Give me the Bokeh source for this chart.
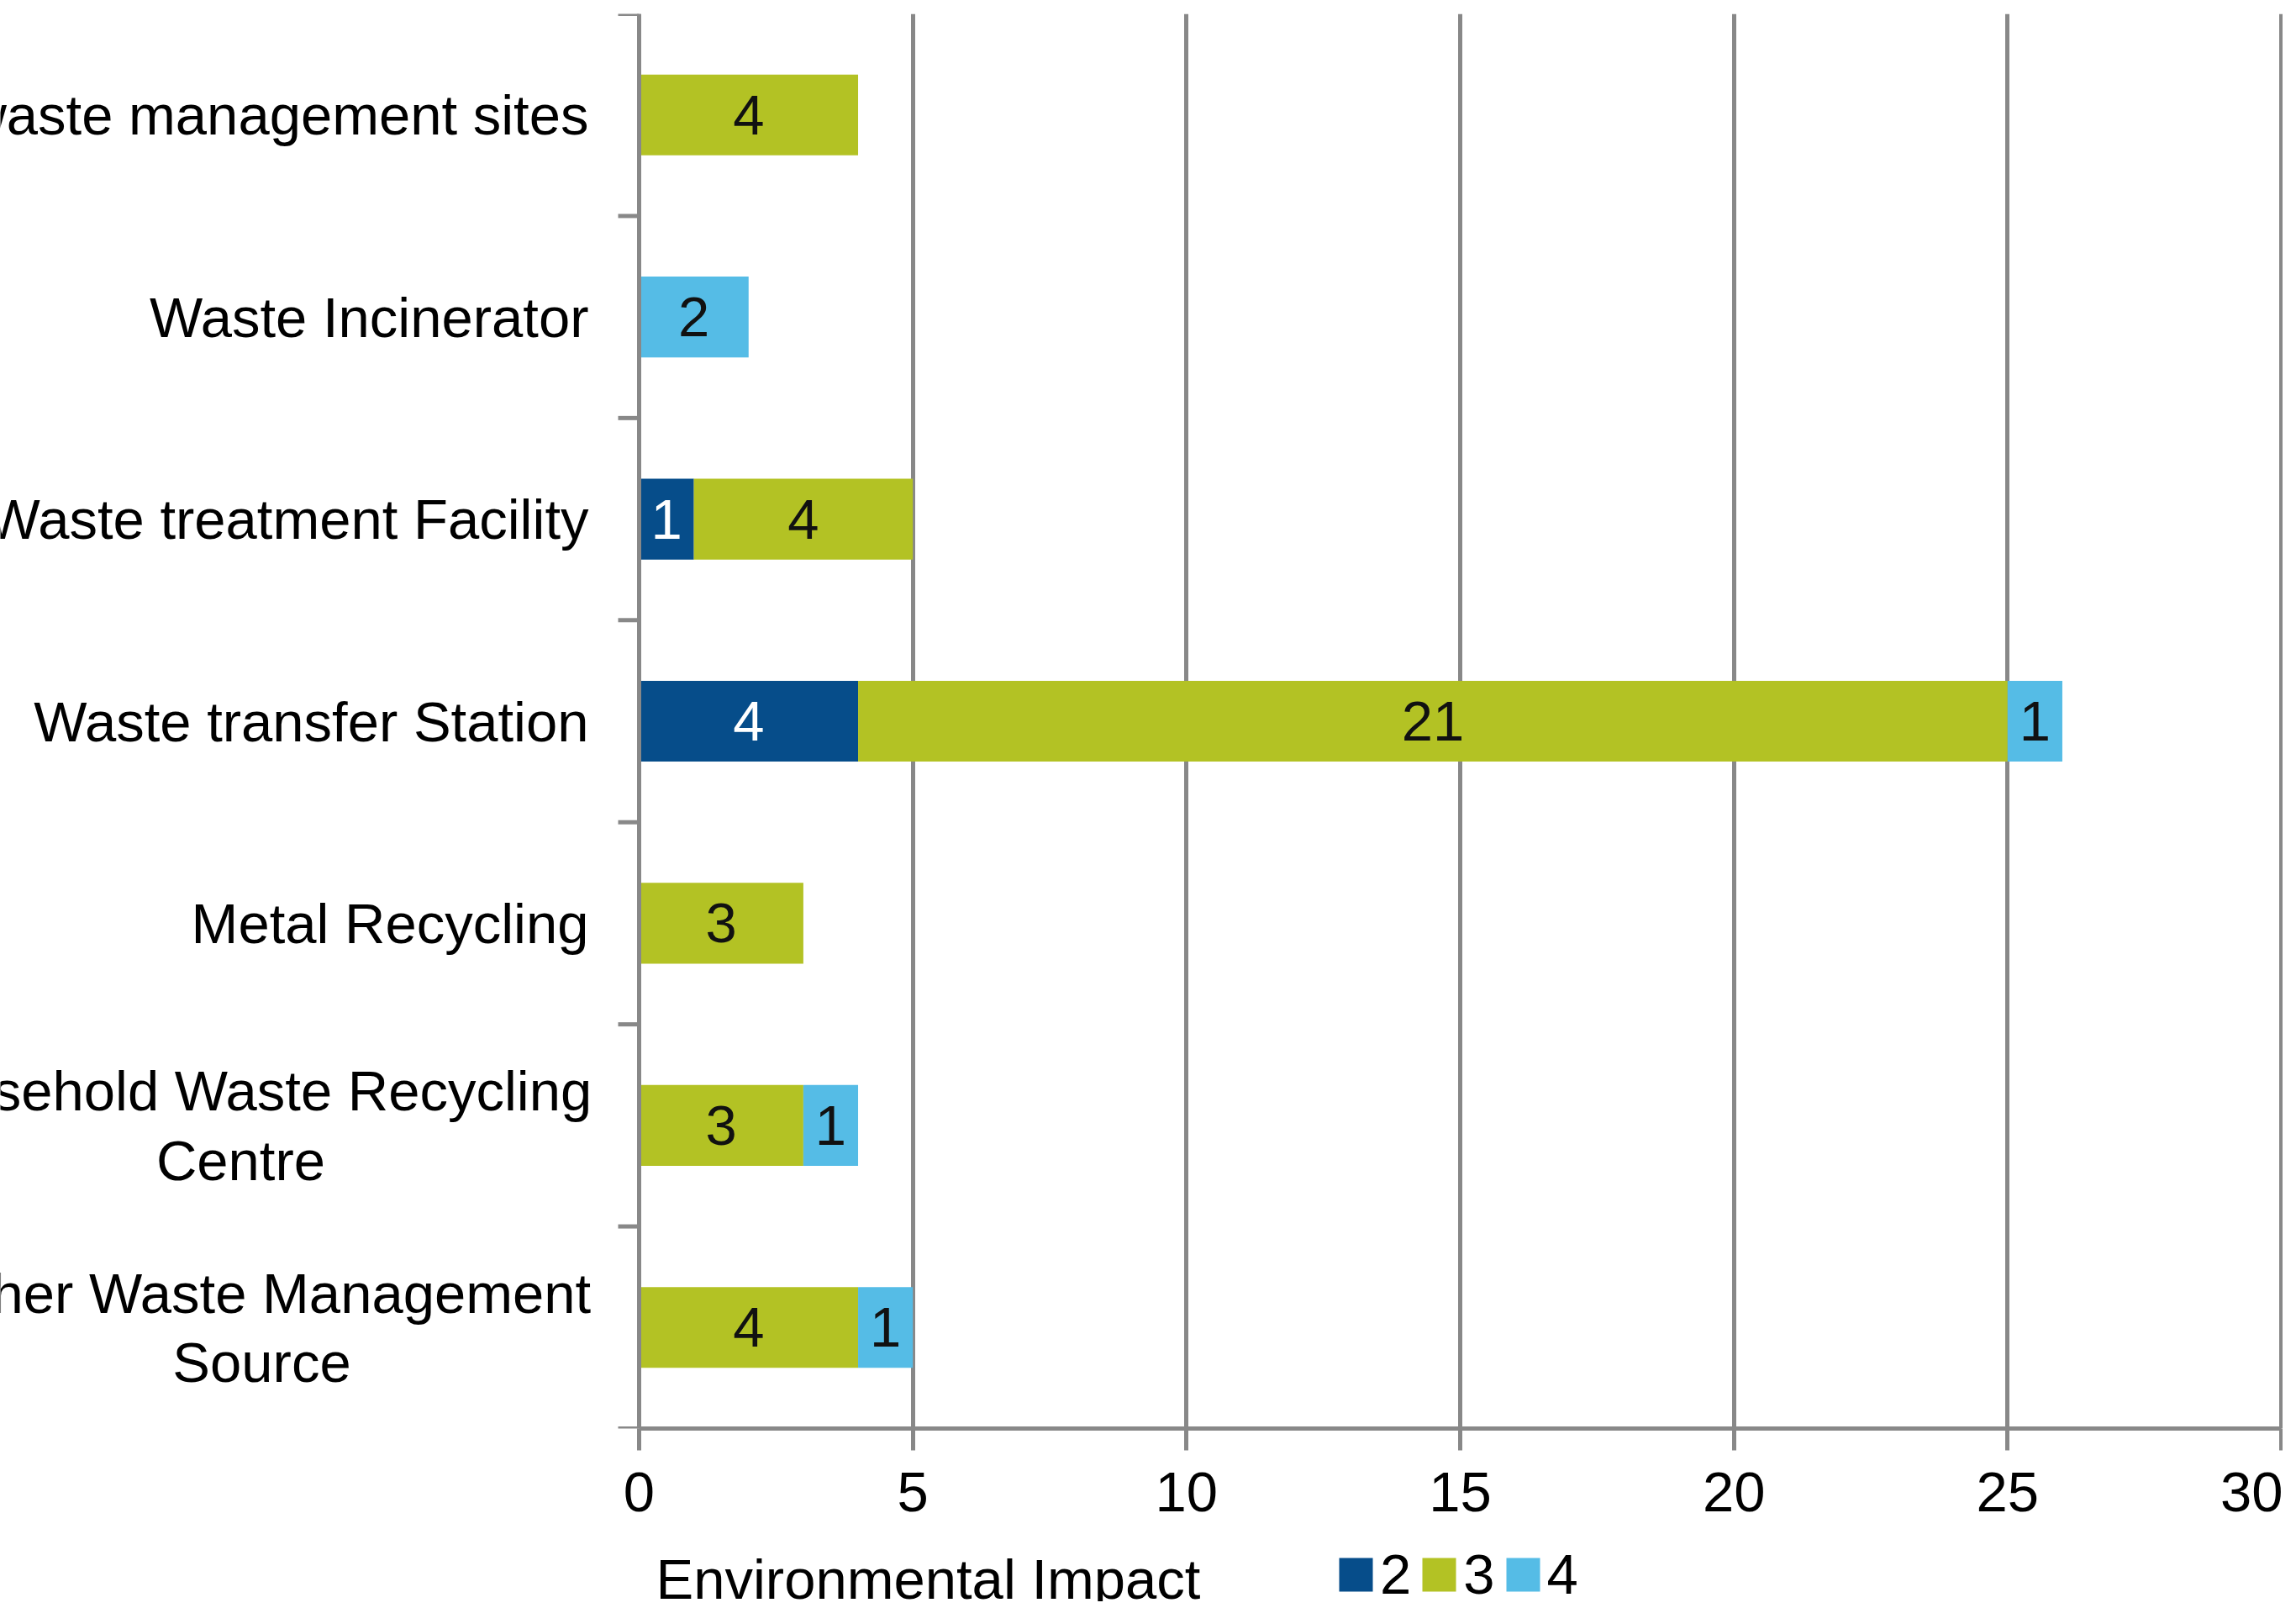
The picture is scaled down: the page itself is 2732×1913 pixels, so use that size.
import numpy as np
from bokeh.plotting import figure
from bokeh.layouts import column
from bokeh.models import (ColumnDataSource, FixedTicker, Range1d, Label, Span,
                          Legend, LegendItem)
from bokeh.core.properties import value
from bokeh.embed import file_html
from bokeh.resources import INLINE

# ---------------- data ----------------
categories = [
    "Illegal waste management sites",
    "Waste Incinerator",
    "Waste treatment Facility",
    "Waste transfer Station",
    "Metal Recycling",
    "Household Waste Recycling Centre",
    "Other Waste Management Source",
]
category_labels = [
    "Illegal waste management sites",
    "Waste Incinerator",
    "Waste treatment Facility",
    "Waste transfer Station",
    "Metal Recycling",
    "Household Waste Recycling\nCentre",
    "Other Waste Management\nSource",
]
series_names = ["2", "3", "4"]
impact_2 = [0, 0, 1, 4, 0, 0, 0]
impact_3 = [4, 0, 4, 21, 3, 3, 4]
impact_4 = [0, 2, 0, 1, 0, 1, 1]
x_ticks = [0, 5, 10, 15, 20, 25, 30]
legend_title = "Environmental Impact"

# ---------------- style ----------------
FONT = "Liberation Sans"
FS = "67px"
GRAY = "#888888"
colors = ["#064d8a", "#b3c224", "#55bce6"]
text_colors = ["#ffffff", "#111111", "#111111"]

W = 2716
H_MAIN = 1832
H_LEG = 73
ZERO_PX, MAX_PX, FRAME_TOP, FRAME_BOTTOM = 760, 2714, 16, 1699

n = len(categories)
ypos = [n - i - 0.5 for i in range(n)]
xmax = x_ticks[-1]
scale = (MAX_PX - ZERO_PX) / xmax
x_start = -ZERO_PX / scale
x_end = xmax + (W - MAX_PX) / scale

p = figure(width=W, height=H_MAIN, x_range=Range1d(x_start, x_end), y_range=Range1d(0, n),
           output_backend="svg", toolbar_location=None, y_axis_location=None)
p.min_border_left = 0
p.min_border_right = 0
p.min_border_top = FRAME_TOP
p.min_border_bottom = H_MAIN - FRAME_BOTTOM
p.outline_line_color = None

# x axis
xt = FixedTicker(ticks=x_ticks)
xa = p.xaxis[0]
xa.ticker = xt
xa.bounds = (0, xmax)
xa.axis_line_color = GRAY
xa.axis_line_width = 5
xa.major_tick_line_color = GRAY
xa.major_tick_line_width = 5
xa.major_tick_in = 0
xa.major_tick_out = 26
xa.minor_tick_line_color = None
xa.major_label_text_font = FONT
xa.major_label_text_font_size = FS
xa.major_label_text_color = "#000000"
xa.major_label_standoff = 26

p.xgrid.ticker = xt
p.xgrid.grid_line_color = GRAY
p.xgrid.grid_line_width = 5
p.ygrid.visible = False

# bars
src = ColumnDataSource(dict(y=ypos, **{"2": impact_2, "3": impact_3, "4": impact_4}))
renderers = p.hbar_stack(series_names, y="y", height=0.4, color=colors, line_color=None, source=src)

# y axis line and category boundary ticks
p.add_layout(Span(location=0, dimension="height", line_color=GRAY, line_width=5))
p.ray(x=[0] * (n + 1), y=list(range(n + 1)), length=25, length_units="screen", angle=np.pi,
      line_color=GRAY, line_width=5)

# segment value labels
lx, ly, lt, lc = [], [], [], []
stack = np.zeros(n)
for vals, tc in zip([impact_2, impact_3, impact_4], text_colors):
    v = np.array(vals, dtype=float)
    for i in range(n):
        if v[i] > 0:
            lx.append(stack[i] + v[i] / 2)
            ly.append(ypos[i])
            lt.append(str(vals[i]))
            lc.append(tc)
    stack += v
p.text(x="x", y="y", text="t", text_color="c",
       source=ColumnDataSource(dict(x=lx, y=ly, t=lt, c=lc)),
       text_align="center", text_baseline="middle",
       text_font=value(FONT), text_font_size=FS)

# category labels (left of the axis, clipped at the left edge like the original)
center_offsets = {"Household Waste Recycling Centre": -474, "Other Waste Management Source": -449}
aligns = ["center" if c in center_offsets else "right" for c in categories]
offs = [center_offsets.get(c, -60) for c in categories]
p.text(x="x", y="y", text="t", x_offset="o", text_align="a",
       source=ColumnDataSource(dict(x=[0] * n, y=ypos, t=category_labels, a=aligns, o=offs)),
       text_baseline="middle", text_font=value(FONT), text_font_size=FS,
       text_color="#000000", text_line_height=1.1)

# ---------------- legend strip ----------------
p2 = figure(width=W, height=H_LEG, x_range=Range1d(0, 1), y_range=Range1d(0, 1),
            output_backend="svg", toolbar_location=None,
            x_axis_location=None, y_axis_location=None, min_border=0)
p2.outline_line_color = None
p2.grid.visible = False
# legend swatches only (placed outside the visible range of this strip)
leg_renderers = [p2.hbar(y=[-5], right=[0], height=0, color=c, line_color=None) for c in colors]
p2.add_layout(Label(x=780, y=27, x_units="screen", y_units="screen", text=legend_title,
                    text_font=FONT, text_font_size=FS, text_color="#000000",
                    text_baseline="middle", text_align="left"))
legend = Legend(items=[LegendItem(label=s, renderers=[r]) for s, r in zip(series_names, leg_renderers)],
                location=(1588, -6), orientation="horizontal",
                glyph_width=50, glyph_height=50, label_standoff=4, spacing=8,
                padding=0, margin=0, border_line_color=None, background_fill_alpha=0,
                label_text_font=FONT, label_text_font_size=FS, label_text_color="#000000")
p2.add_layout(legend)

layout = column(p, p2, spacing=0)
open("out.html", "w").write(file_html(layout, INLINE))
